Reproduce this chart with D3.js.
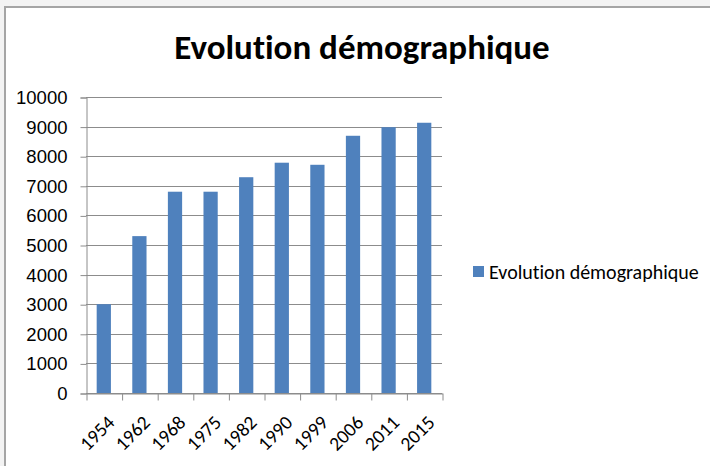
<!DOCTYPE html>
<html>
<head>
<meta charset="utf-8">
<script src="https://cdn.jsdelivr.net/npm/d3@7"></script>
<style>
  body { margin: 0; background: #fff; }
  svg { display: block; font-family: Carlito, Calibri, "Open Sans", sans-serif; font-variant-ligatures: none; }
</style>
</head>
<body>
<script>
// data
var years = ["1954", "1962", "1968", "1975", "1982", "1990", "1999", "2006", "2011", "2015"];
var population = [3000, 5300, 6800, 6800, 7290, 7780, 7710, 8690, 8980, 9130];
var yTicks = [0, 1000, 2000, 3000, 4000, 5000, 6000, 7000, 8000, 9000, 10000];
var seriesName = "Evolution démographique";
var title = "Evolution démographique";

var width = 710, height = 466;
var margin = {left: 86, right: 268, top: 97, bottom: 73};

var svg = d3.select("body").append("svg")
    .attr("width", width).attr("height", height);

// spreadsheet bits around the chart object
svg.append("rect").attr("x", 0).attr("y", 0).attr("width", width).attr("height", 6).attr("fill", "#f3f3f3");
svg.append("rect").attr("x", 0).attr("y", 0).attr("width", 4).attr("height", height).attr("fill", "#f3f3f3");
svg.append("path").attr("d", "M5," + height + "V7H" + width)
    .attr("fill", "none").attr("stroke", "#a5a5a5").attr("stroke-width", 2);

var x = d3.scaleBand()
    .domain(years)
    .range([margin.left, width - margin.right])
    .paddingInner(0.6)
    .paddingOuter(0.3);

var xEdges = d3.scaleLinear()
    .domain([0, years.length])
    .range([margin.left, width - margin.right]);

var y = d3.scaleLinear()
    .domain([0, 10000])
    .range([height - margin.bottom, margin.top]);

// gridlines
svg.append("g")
    .selectAll("line")
    .data(yTicks)
    .join("line")
    .attr("x1", margin.left).attr("x2", width - margin.right)
    .attr("y1", function(d){ return Math.round(y(d)) + 0.5; })
    .attr("y2", function(d){ return Math.round(y(d)) + 0.5; })
    .attr("stroke", "#8c8c8c");

// bars
svg.append("g")
    .selectAll("rect")
    .data(population)
    .join("rect")
    .attr("x", function(d, i){ return x(years[i]); })
    .attr("width", x.bandwidth())
    .attr("y", function(d){ return y(d); })
    .attr("height", function(d){ return y(0) - y(d); })
    .attr("fill", "#4f81bd");

// y axis
var yAxis = svg.append("g")
    .attr("transform", "translate(" + (margin.left + 0.5) + ",0.5)")
    .call(d3.axisLeft(y).tickValues(yTicks).tickSize(6).tickPadding(13).tickFormat(d3.format("d")));
yAxis.selectAll("path, line").attr("stroke", "#8c8c8c");
yAxis.selectAll("text").attr("font-size", 18.5).attr("fill", "#000");

// x axis (tick marks between categories)
var xAxis = svg.append("g")
    .attr("transform", "translate(0.5," + (Math.round(y(0)) + 0.5) + ")")
    .call(d3.axisBottom(xEdges).tickValues(d3.range(years.length + 1)).tickSize(7).tickSizeOuter(0).tickFormat(""));
xAxis.selectAll("path, line").attr("stroke", "#8c8c8c");

svg.append("g")
    .selectAll("text")
    .data(years)
    .join("text")
    .attr("transform", function(d){
      return "translate(" + (x(d) + x.bandwidth() / 2 + 7) + "," + (y(0) + 26) + ") rotate(-45)";
    })
    .attr("text-anchor", "end")
    .attr("dy", "0.35em")
    .attr("font-size", 19.5)
    .attr("fill", "#000")
    .text(function(d){ return d; });

// title
svg.append("text")
    .attr("x", 362).attr("y", 59)
    .attr("text-anchor", "middle")
    .attr("font-size", 35)
    .attr("font-weight", "bold")
    .attr("fill", "#000")
    .text(title);

// legend
var legend = svg.append("g").attr("transform", "translate(473,266)");
legend.append("rect").attr("width", 11).attr("height", 11).attr("fill", "#4f81bd");
legend.append("text")
    .attr("x", 16).attr("y", 5.5)
    .attr("dy", "0.35em")
    .attr("font-size", 20)
    .attr("fill", "#000")
    .text(seriesName);
</script>
</body>
</html>
